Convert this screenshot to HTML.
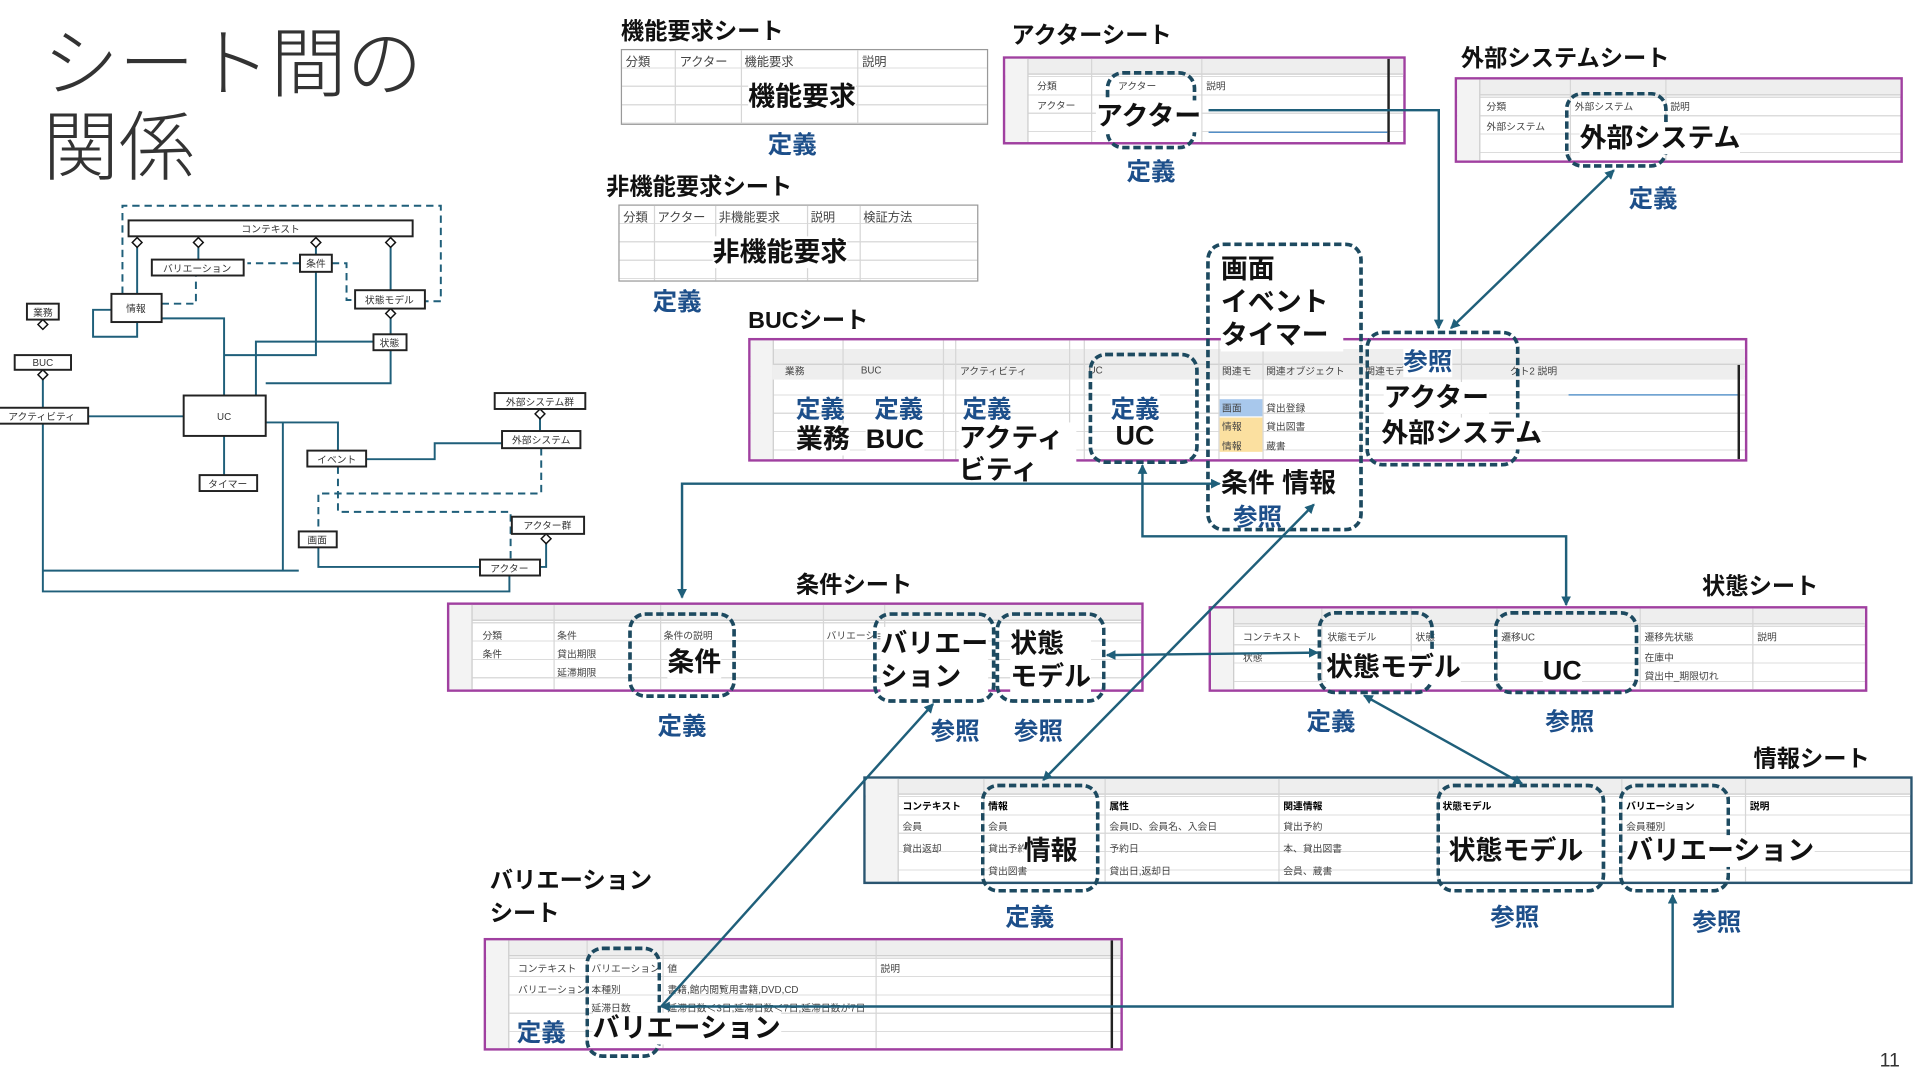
<!DOCTYPE html>
<html><head><meta charset="utf-8"><style>
html,body{margin:0;padding:0;background:#fff;width:1920px;height:1080px;overflow:hidden}
#s{position:absolute;left:0;top:0;width:1568px;height:882px;transform:scale(1.22449);transform-origin:0 0;font-family:"Liberation Sans","Noto Sans CJK JP",sans-serif;color:#111}
.a{position:absolute;white-space:nowrap}
.lbl{font-weight:bold;font-size:19px;color:#111}
.big{font-weight:bold;font-size:22px;color:#111;line-height:26px}
.def{font-weight:bold;font-size:20px;color:#1d4f8a}
.sh{position:absolute;border:2px solid #a040a0;background:#fff;overflow:hidden;
 background-image:repeating-linear-gradient(to bottom,transparent 0 14px,#dcdcdc 14px 15px)}
.sh .hd{position:absolute;left:0;right:0;top:0;height:12px;background:#eee;border-bottom:1px solid #ccc}
.sh .rn{position:absolute;left:0;top:0;bottom:0;width:18px;background:#f3f3f3;border-right:1px solid #ccc}
.vl{position:absolute;top:0;bottom:0;width:1px;background:#d6d6d6}
.t{position:absolute;font-size:8px;color:#444;white-space:nowrap}
.tb{position:absolute;border:1px solid #999;background:#fff;
 background-image:repeating-linear-gradient(to bottom,transparent 0 14px,#ddd 14px 15px)}
.dash{position:absolute;border:3px dashed #1d4a60;border-radius:14px}
.wh{background:#fff}
</style></head><body><div id="s">

<div class="a" style="left:35px;top:20px;font-size:62px;line-height:68px;color:#333;font-weight:300;white-space:normal;width:340px">シート間の<br>関係</div>

<!-- small diagram -->
<svg class="a" style="left:0;top:160px" width="490" height="335" viewBox="0 160 490 335">
<g fill="none" stroke="#1f5f7a" stroke-width="1.6">
<path d="M100 240 V168 H360 V246 H347" stroke-dasharray="6 4"/>
<path d="M132 248 H160 V225" stroke-dasharray="6 4"/>
<path d="M245 215 H202" stroke-dasharray="6 4"/>
<path d="M271 215 H283 V245 H290" stroke-dasharray="6 4"/>
<path d="M112 202 V240 M162 202 V212 M258 202 V208 M319 202 V237"/>
<path d="M319 256 V273 M319 286 V313 H217"/>
<path d="M258 222 V290 H183 M132 260 H183 V323"/>
<path d="M91 253 H76 V275 H112 V263"/>
<path d="M305 279 H209 V323"/>
<path d="M35 306 V333 M35 346 V466 H244 M35 346 V483 H416 V470"/>
<path d="M72 340 H150"/>
<path d="M217 345 H276 V368 M231 345 V466"/>
<path d="M183 356 V388"/>
<path d="M299 375 H355 V362 H410"/>
<path d="M260 447 V463 H392"/>
<path d="M441 338 V352 M446 440 V463 H441"/>
<path d="M442 366 V403 H260 V434 M276 381 V418 H417 V457" stroke-dasharray="6 4"/>
</g>
<g fill="#fff" stroke="#111" stroke-width="1.2">
<polygon points="112,194 116,198 112,202 108,198"/><polygon points="162,194 166,198 162,202 158,198"/>
<polygon points="258,194 262,198 258,202 254,198"/><polygon points="319,194 323,198 319,202 315,198"/>
<polygon points="319,252 323,256 319,260 315,256"/><polygon points="35,261 39,265 35,269 31,265"/>
<polygon points="35,302 39,306 35,310 31,306"/><polygon points="441,334 445,338 441,342 437,338"/>
<polygon points="446,436 450,440 446,444 442,440"/>
</g>
<g fill="#fff" stroke="#222" stroke-width="1.6" font-size="8" text-anchor="middle" font-family="Liberation Sans,Noto Sans CJK JP,sans-serif">
<rect x="105" y="180" width="232" height="13"/><text x="221" y="190" stroke="none" fill="#333">コンテキスト</text>
<rect x="124" y="212" width="75" height="13"/><text x="161" y="222" stroke="none" fill="#333">バリエーション</text>
<rect x="245" y="208" width="26" height="14"/><text x="258" y="218" stroke="none" fill="#333">条件</text>
<rect x="290" y="237" width="57" height="15"/><text x="318" y="248" stroke="none" fill="#333">状態モデル</text>
<rect x="91" y="240" width="41" height="23"/><text x="111" y="255" stroke="none" fill="#333">情報</text>
<rect x="22" y="248" width="26" height="13"/><text x="35" y="258" stroke="none" fill="#333">業務</text>
<rect x="12" y="290" width="46" height="12"/><text x="35" y="299" stroke="none" fill="#333">BUC</text>
<rect x="-2" y="333" width="74" height="13"/><text x="34" y="343" stroke="none" fill="#333">アクティビティ</text>
<rect x="150" y="323" width="67" height="33"/><text x="183" y="343" stroke="none" fill="#333">UC</text>
<rect x="305" y="273" width="27" height="13"/><text x="318" y="283" stroke="none" fill="#333">状態</text>
<rect x="163" y="388" width="47" height="13"/><text x="186" y="398" stroke="none" fill="#333">タイマー</text>
<rect x="251" y="368" width="48" height="13"/><text x="275" y="378" stroke="none" fill="#333">イベント</text>
<rect x="404" y="321" width="74" height="13"/><text x="441" y="331" stroke="none" fill="#333">外部システム群</text>
<rect x="410" y="352" width="64" height="14"/><text x="442" y="362" stroke="none" fill="#333">外部システム</text>
<rect x="418" y="422" width="59" height="14"/><text x="447" y="432" stroke="none" fill="#333">アクター群</text>
<rect x="244" y="434" width="31" height="13"/><text x="259" y="444" stroke="none" fill="#333">画面</text>
<rect x="392" y="457" width="49" height="13"/><text x="416" y="467" stroke="none" fill="#333">アクター</text>
</g>
</svg>

<!-- 機能要求 -->
<div class="a lbl" style="left:507px;top:11px">機能要求シート</div>
<div class="tb" style="left:507px;top:40px;width:298px;height:60px">
<div class="vl" style="left:43px"></div><div class="vl" style="left:97px"></div><div class="vl" style="left:192px"></div>
<div class="t" style="left:3px;top:1px;font-size:10px">分類</div><div class="t" style="left:47px;top:1px;font-size:10px">アクター</div>
<div class="t" style="left:100px;top:1px;font-size:10px">機能要求</div><div class="t" style="left:196px;top:1px;font-size:10px">説明</div></div>
<div class="a big wh" style="left:611px;top:66px">機能要求</div>
<div class="a def" style="left:627px;top:102px">定義</div>

<!-- 非機能要求 -->
<div class="a lbl" style="left:495px;top:138px">非機能要求シート</div>
<div class="tb" style="left:505px;top:167px;width:292px;height:61px">
<div class="vl" style="left:28px"></div><div class="vl" style="left:78px"></div><div class="vl" style="left:153px"></div><div class="vl" style="left:196px"></div>
<div class="t" style="left:3px;top:1px;font-size:10px">分類</div><div class="t" style="left:31px;top:1px;font-size:10px">アクター</div>
<div class="t" style="left:81px;top:1px;font-size:10px">非機能要求</div><div class="t" style="left:156px;top:1px;font-size:10px">説明</div><div class="t" style="left:199px;top:1px;font-size:10px">検証方法</div></div>
<div class="a big wh" style="left:582px;top:193px">非機能要求</div>
<div class="a def" style="left:533px;top:230px">定義</div>

<!-- アクター -->
<div class="a lbl" style="left:826px;top:14px">アクターシート</div>
<div class="sh" style="left:819px;top:46px;width:325px;height:68px"><div class="hd"></div><div class="rn"></div>
<div class="vl" style="left:70px"></div><div class="vl" style="left:160px"></div><div class="vl" style="left:312px;background:#222;width:2px"></div>
<div class="t" style="left:26px;top:17px">分類</div><div class="t" style="left:92px;top:17px">アクター</div><div class="t" style="left:164px;top:17px">説明</div>
<div class="t" style="left:26px;top:33px">アクター</div></div>
<div class="dash" style="left:903px;top:58px;width:68px;height:58px"></div>
<div class="a big wh" style="left:895px;top:82px">アクター</div>
<div class="a def" style="left:920px;top:124px">定義</div>

<!-- 外部システム -->
<div class="a lbl" style="left:1193px;top:33px">外部システムシート</div>
<div class="sh" style="left:1188px;top:63px;width:362px;height:66px"><div class="hd"></div><div class="rn"></div>
<div class="vl" style="left:92px"></div><div class="vl" style="left:170px"></div>
<div class="t" style="left:24px;top:17px">分類</div><div class="t" style="left:96px;top:17px">外部システム</div><div class="t" style="left:174px;top:17px">説明</div>
<div class="t" style="left:24px;top:33px">外部システム</div></div>
<div class="dash" style="left:1278px;top:75px;width:78px;height:56px"></div>
<div class="a big wh" style="left:1290px;top:100px">外部システム</div>
<div class="a def" style="left:1330px;top:146px">定義</div>

<!-- BUC -->
<div class="a lbl" style="left:611px;top:247px">BUCシート</div>
<div class="sh" style="left:611px;top:276px;width:812px;height:97px"><div class="hd" style="top:7px;height:12px"></div><div class="rn"></div>
<div class="a" style="left:18px;right:0;top:20px;height:12px;background:#eee"></div>
<div class="vl" style="left:75px"></div><div class="vl" style="left:157px"></div><div class="vl" style="left:167px"></div><div class="vl" style="left:260px"></div><div class="vl" style="left:272px"></div>
<div class="vl" style="left:382px"></div><div class="vl" style="left:418px"></div><div class="vl" style="left:498px"></div><div class="vl" style="left:580px"></div>
<div class="a" style="left:383px;top:48px;width:35px;height:14px;background:#a8c8ec"></div>
<div class="a" style="left:383px;top:63px;width:35px;height:28px;background:#fbe0a0"></div>
<div class="t" style="left:28px;top:20px">業務</div><div class="t" style="left:90px;top:20px">BUC</div><div class="t" style="left:171px;top:20px">アクティビティ</div>
<div class="t" style="left:276px;top:20px">UC</div><div class="t" style="left:385px;top:20px">関連モ</div><div class="t" style="left:421px;top:20px">関連オブジェクト</div>
<div class="t" style="left:502px;top:20px">関連モデ</div><div class="t" style="left:620px;top:20px">クト2 説明</div>
<div class="t" style="left:385px;top:50px">画面</div><div class="t" style="left:385px;top:65px">情報</div><div class="t" style="left:385px;top:81px">情報</div>
<div class="t" style="left:421px;top:50px">貸出登録</div><div class="t" style="left:421px;top:65px">貸出図書</div><div class="t" style="left:421px;top:81px">蔵書</div>
<div class="a" style="left:668px;top:44px;width:140px;height:1px;background:#3a7fc0"></div>
<div class="a" style="left:806px;top:20px;width:2px;height:77px;background:#222"></div></div>
<div class="a def" style="left:650px;top:318px">定義</div><div class="a def" style="left:714px;top:318px">定義</div><div class="a def" style="left:786px;top:318px">定義</div>
<div class="a big wh" style="left:650px;top:346px">業務</div><div class="a big wh" style="left:707px;top:346px">BUC</div>
<div class="a big" style="left:783px;top:345px;white-space:normal;width:96px;line-height:26px;background:#fff">アクティ<br>ビティ</div>
<div class="dash" style="left:889px;top:288px;width:84px;height:85px"></div>
<div class="a def" style="left:907px;top:318px;background:#fff">定義</div>
<div class="a big" style="left:911px;top:343px">UC</div>

<div class="dash" style="left:985px;top:198px;width:122px;height:230px"></div>
<div class="a big" style="left:997px;top:206px;line-height:27px;background:#fff;white-space:normal;width:100px">画面<br>イベント<br>タイマー</div>
<div class="a big" style="left:997px;top:382px;background:#fff">条件 情報</div>
<div class="a def" style="left:1007px;top:406px">参照</div>

<div class="dash" style="left:1115px;top:270px;width:120px;height:105px"></div>
<div class="a def wh" style="left:1146px;top:279px">参照</div>
<div class="a big wh" style="left:1130px;top:312px">アクター</div>
<div class="a big wh" style="left:1128px;top:341px">外部システム</div>

<!-- 条件 -->
<div class="a lbl" style="left:650px;top:463px">条件シート</div>
<div class="sh" style="left:365px;top:492px;width:565px;height:69px"><div class="hd"></div><div class="rn"></div>
<div class="vl" style="left:85px"></div><div class="vl" style="left:172px"></div><div class="vl" style="left:305px"></div><div class="vl" style="left:355px"></div>
<div class="t" style="left:27px;top:20px">分類</div><div class="t" style="left:88px;top:20px">条件</div><div class="t" style="left:175px;top:20px">条件の説明</div><div class="t" style="left:308px;top:20px">バリエーショ</div>
<div class="t" style="left:27px;top:35px">条件</div><div class="t" style="left:88px;top:35px">貸出期限</div><div class="t" style="left:88px;top:50px">延滞期限</div></div>
<div class="dash" style="left:513px;top:500px;width:82px;height:64px"></div>
<div class="a big wh" style="left:545px;top:528px">条件</div>
<div class="dash" style="left:713px;top:500px;width:94px;height:68px"></div>
<div class="a big wh" style="left:719px;top:512px;line-height:27px;white-space:normal">バリエー<br>ション</div>
<div class="dash" style="left:813px;top:500px;width:84px;height:68px"></div>
<div class="a big wh" style="left:825px;top:512px;line-height:27px;white-space:normal">状態<br>モデル</div>
<div class="a def" style="left:537px;top:577px">定義</div>
<div class="a def" style="left:760px;top:581px">参照</div>
<div class="a def" style="left:828px;top:581px">参照</div>

<!-- 状態 -->
<div class="a lbl" style="left:1390px;top:464px">状態シート</div>
<div class="sh" style="left:987px;top:495px;width:534px;height:66px"><div class="hd"></div><div class="rn"></div>
<div class="vl" style="left:90px"></div><div class="vl" style="left:163px"></div><div class="vl" style="left:233px"></div><div class="vl" style="left:350px"></div><div class="vl" style="left:442px"></div>
<div class="t" style="left:26px;top:18px">コンテキスト</div><div class="t" style="left:95px;top:18px">状態モデル</div><div class="t" style="left:167px;top:18px">状態</div><div class="t" style="left:237px;top:18px">遷移UC</div><div class="t" style="left:354px;top:18px">遷移先状態</div><div class="t" style="left:446px;top:18px">説明</div>
<div class="t" style="left:26px;top:35px">状態</div><div class="t" style="left:354px;top:35px">在庫中</div><div class="t" style="left:354px;top:50px">貸出中_期限切れ</div></div>
<div class="dash" style="left:1076px;top:499px;width:89px;height:62px"></div>
<div class="a big wh" style="left:1083px;top:532px">状態モデル</div>
<div class="dash" style="left:1220px;top:499px;width:112px;height:62px"></div>
<div class="a big wh" style="left:1260px;top:535px">UC</div>
<div class="a def" style="left:1067px;top:573px">定義</div>
<div class="a def" style="left:1262px;top:573px">参照</div>

<!-- 情報 -->
<div class="a lbl" style="left:1432px;top:605px">情報シート</div>
<div class="sh" style="left:705px;top:634px;width:853px;height:84px;border-color:#2a5570"><div class="hd"></div><div class="rn" style="width:26px"></div>
<div class="vl" style="left:96px"></div><div class="vl" style="left:195px"></div><div class="vl" style="left:337px"></div><div class="vl" style="left:467px"></div><div class="vl" style="left:617px"></div><div class="vl" style="left:718px"></div>
<div class="t" style="left:30px;top:17px;font-weight:bold;color:#000">コンテキスト</div><div class="t" style="left:100px;top:17px;font-weight:bold;color:#000">情報</div><div class="t" style="left:199px;top:17px;font-weight:bold;color:#000">属性</div><div class="t" style="left:341px;top:17px;font-weight:bold;color:#000">関連情報</div><div class="t" style="left:471px;top:17px;font-weight:bold;color:#000">状態モデル</div><div class="t" style="left:621px;top:17px;font-weight:bold;color:#000">バリエーション</div><div class="t" style="left:722px;top:17px;font-weight:bold;color:#000">説明</div>
<div class="t" style="left:30px;top:34px">会員</div><div class="t" style="left:100px;top:34px">会員</div><div class="t" style="left:199px;top:34px">会員ID、会員名、入会日</div><div class="t" style="left:341px;top:34px">貸出予約</div><div class="t" style="left:621px;top:34px">会員種別</div>
<div class="t" style="left:30px;top:52px">貸出返却</div><div class="t" style="left:100px;top:52px">貸出予約</div><div class="t" style="left:199px;top:52px">予約日</div><div class="t" style="left:341px;top:52px">本、貸出図書</div>
<div class="t" style="left:100px;top:70px">貸出図書</div><div class="t" style="left:199px;top:70px">貸出日,返却日</div><div class="t" style="left:341px;top:70px">会員、蔵書</div></div>
<div class="dash" style="left:801px;top:640px;width:91px;height:83px"></div>
<div class="a big wh" style="left:836px;top:682px">情報</div>
<div class="dash" style="left:1173px;top:640px;width:132px;height:83px"></div>
<div class="a big wh" style="left:1183px;top:682px">状態モデル</div>
<div class="dash" style="left:1322px;top:640px;width:85px;height:83px"></div>
<div class="a big wh" style="left:1328px;top:682px">バリエーション</div>
<div class="a def" style="left:821px;top:733px">定義</div>
<div class="a def" style="left:1217px;top:733px">参照</div>
<div class="a def" style="left:1382px;top:737px">参照</div>

<!-- バリエーション -->
<div class="a lbl" style="left:400px;top:706px;line-height:27px">バリエーション<br>シート</div>
<div class="sh" style="left:395px;top:766px;width:518px;height:88px"><div class="hd"></div><div class="rn"></div>
<div class="vl" style="left:82px"></div><div class="vl" style="left:144px"></div><div class="vl" style="left:318px"></div><div class="vl" style="left:510px;background:#222;width:2px"></div>
<div class="t" style="left:26px;top:18px">コンテキスト</div><div class="t" style="left:86px;top:18px">バリエーション</div><div class="t" style="left:148px;top:18px">値</div><div class="t" style="left:322px;top:18px">説明</div>
<div class="t" style="left:26px;top:35px">バリエーション</div><div class="t" style="left:86px;top:35px">本種別</div><div class="t" style="left:148px;top:35px">書籍,館内閲覧用書籍,DVD,CD</div>
<div class="t" style="left:86px;top:50px">延滞日数</div><div class="t" style="left:148px;top:50px">延滞日数＜3日,延滞日数＜7日,延滞日数が7日</div></div>
<div class="dash" style="left:478px;top:773px;width:56px;height:85px"></div>
<div class="a def" style="left:422px;top:827px">定義</div>
<div class="a big wh" style="left:484px;top:827px">バリエーション</div>

<div class="a" style="left:1535px;top:858px;font-size:16px;color:#333">11</div>

<!-- connectors -->
<svg class="a" style="left:0;top:0" width="1568" height="882">
<defs><marker id="ar" markerWidth="8" markerHeight="8" refX="7" refY="4" orient="auto-start-reverse" markerUnits="userSpaceOnUse"><path d="M0,0 L8,4 L0,8 z" fill="#1f5f7a"/></marker></defs>
<g fill="none" stroke="#1f5f7a" stroke-width="2">
<path d="M987 90 H1175 V268" marker-end="url(#ar)"/>
<line x1="1185" y1="268" x2="1318" y2="139" marker-start="url(#ar)" marker-end="url(#ar)"/>
<path d="M557 488 V395 H996" marker-start="url(#ar)" marker-end="url(#ar)"/>
<path d="M1279 494 V438 H933 V380" marker-start="url(#ar)" marker-end="url(#ar)"/>
<line x1="852" y1="637" x2="1073" y2="412" marker-start="url(#ar)" marker-end="url(#ar)"/>
<line x1="904" y1="535" x2="1076" y2="533" marker-start="url(#ar)" marker-end="url(#ar)"/>
<line x1="1114" y1="568" x2="1243" y2="640" marker-start="url(#ar)" marker-end="url(#ar)"/>
<line x1="540" y1="822" x2="762" y2="575" marker-end="url(#ar)"/>
<path d="M1366 731 V822 H540" marker-start="url(#ar)" marker-end="url(#ar)"/>
</g>
<g stroke="#3a7fc0" stroke-width="1"><line x1="987" y1="108" x2="1133" y2="108"/></g>
</svg>
</div></body></html>
